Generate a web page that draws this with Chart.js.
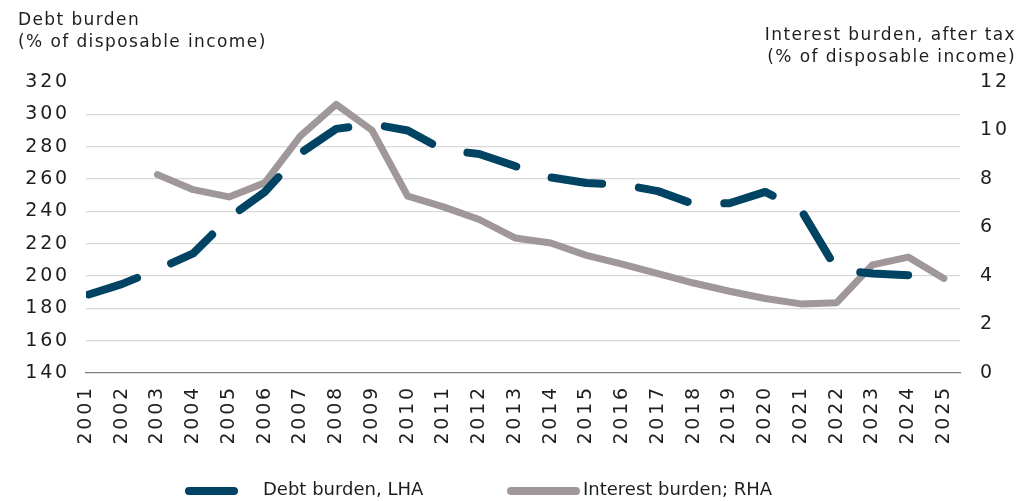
<!DOCTYPE html>
<html>
<head>
<meta charset="utf-8">
<script src="https://cdn.jsdelivr.net/npm/chart.js@4.4.1/dist/chart.umd.min.js"></script>
<style>
  html, body { margin: 0; padding: 0; background: #fff; }
  #wrap { width: 1021px; height: 502px; }
</style>
</head>
<body>
<div id="wrap"><canvas id="myChart" width="1021" height="502"></canvas></div>
<script>
'use strict'

const years = [2001, 2002, 2003, 2004, 2005, 2006, 2007, 2008, 2009, 2010, 2011, 2012, 2013,
  2014, 2015, 2016, 2017, 2018, 2019, 2020, 2021, 2022, 2023, 2024, 2025]

// LHA, % of disposable income
const debtBurden = [188, 195, 204, 214, 236, 252, 276, 291, 294, 290, 278, 275.5, 268,
  261, 257.5, 256.5, 252.5, 244.5, 245, 252, 241, 204, 201.5, 200.5, null]

// RHA, after tax
const interestBurden = [null, null, 8.18, 7.56, 7.26, 7.84, 9.78, 11.08, 10.01, 7.29, 6.85, 6.33, 5.57,
  5.36, 4.85, 4.49, 4.10, 3.71, 3.37, 3.07, 2.85, 2.90, 4.46, 4.78, 3.90]

const leftTicks = [140, 160, 180, 200, 220, 240, 260, 280, 300, 320]
const rightTicks = [0, 2, 4, 6, 8, 10, 12]

const leftTitle = ['Debt burden', '(% of disposable income)']
const rightTitle = ['Interest burden, after tax', '(% of disposable income)']
const legendNames = ['Debt burden, LHA', 'Interest burden; RHA']

const navy = '#004363'
const grey = '#a09898'
const ink = '#1e1e1e'
const fontFamily = 'DejaVu Sans'

const toPoints = (values) => values.map((v, i) => ({ x: years[i], y: v }))

// wide lettering like the original house font
const spacing = {
  id: 'spacing',
  beforeUpdate(chart) { chart.ctx.letterSpacing = '2.8px' },
  beforeDraw(chart) { chart.ctx.letterSpacing = '2.8px' }
}

const titlesAndLegend = {
  id: 'titlesAndLegend',
  afterDraw(chart) {
    const ctx = chart.ctx
    ctx.save()
    ctx.fillStyle = ink
    ctx.font = `17px "${fontFamily}"`
    ctx.letterSpacing = '1.4px'
    ctx.textBaseline = 'alphabetic'
    ctx.textAlign = 'left'
    ctx.fillText(leftTitle[0], 18, 25)
    ctx.fillText(leftTitle[1], 18, 47)
    ctx.textAlign = 'right'
    ctx.fillText(rightTitle[0], 1016, 40)
    ctx.fillText(rightTitle[1], 1016, 62)

    // legend row
    const items = [
      { x1: 189, x2: 234, tx: 263, color: navy, width: 8 },
      { x1: 511, x2: 576, tx: 583, color: grey, width: 8 }
    ]
    ctx.letterSpacing = '0px'
    ctx.font = `18px "${fontFamily}"`
    ctx.textAlign = 'left'
    ctx.textBaseline = 'middle'
    items.forEach((it, i) => {
      ctx.beginPath()
      ctx.strokeStyle = it.color
      ctx.lineWidth = it.width
      ctx.lineCap = 'round'
      ctx.moveTo(it.x1, 491)
      ctx.lineTo(it.x2, 491)
      ctx.stroke()
      ctx.fillStyle = ink
      ctx.fillText(legendNames[i], it.tx, 490)
    })
    ctx.restore()
  }
}

const ctx = document.getElementById('myChart')

const myChart = new Chart(ctx, {
  type: 'line',
  data: {
    datasets: [{
      label: legendNames[0],
      data: toPoints(debtBurden),
      yAxisID: 'y',
      borderColor: navy,
      borderWidth: 8,
      borderDash: [51, 37],
      borderDashOffset: -3,
      borderCapStyle: 'round',
      borderJoinStyle: 'round',
      pointRadius: 0,
      tension: 0
    }, {
      label: legendNames[1],
      data: toPoints(interestBurden),
      yAxisID: 'y2',
      borderColor: grey,
      borderWidth: 7,
      borderCapStyle: 'round',
      borderJoinStyle: 'round',
      pointRadius: 0,
      tension: 0
    }]
  },
  options: {
    responsive: false,
    animation: false,
    devicePixelRatio: 1,
    layout: { padding: { top: 82, left: 0, right: 0, bottom: 0 } },
    plugins: {
      legend: { display: false },
      tooltip: { enabled: false }
    },
    scales: {
      x: {
        type: 'linear',
        min: 2001,
        max: 2025.45,
        afterBuildTicks: (axis) => { axis.ticks = years.map(v => ({ value: v })) },
        afterFit: (axis) => { axis.height = 129 },
        grid: { display: false, drawTicks: false },
        border: { display: true, color: '#808080', width: 1.3 },
        ticks: {
          autoSkip: false,
          minRotation: 90,
          maxRotation: 90,
          padding: 12,
          color: ink,
          font: { family: fontFamily, size: 19 },
          callback: (value) => String(value)
        }
      },
      y: {
        position: 'left',
        min: 140,
        max: 320,
        afterBuildTicks: (axis) => { axis.ticks = leftTicks.map(v => ({ value: v })) },
        afterFit: (axis) => { axis.width = 86 },
        grid: {
          drawTicks: false,
          lineWidth: 1.3,
          color: (c) => (c.tick && (c.tick.value === 320 || c.tick.value === 140)) ? 'rgba(0,0,0,0)' : '#d9d9d9'
        },
        border: { display: false },
        ticks: {
          padding: 16,
          color: ink,
          font: { family: fontFamily, size: 19 }
        }
      },
      y2: {
        position: 'right',
        min: 0,
        max: 12,
        afterBuildTicks: (axis) => { axis.ticks = rightTicks.map(v => ({ value: v })) },
        afterFit: (axis) => { axis.width = 61 },
        grid: { display: false, drawTicks: false },
        border: { display: false },
        ticks: {
          padding: 20,
          color: ink,
          font: { family: fontFamily, size: 19 }
        }
      }
    }
  },
  plugins: [spacing, titlesAndLegend]
})
</script>
</body>
</html>
